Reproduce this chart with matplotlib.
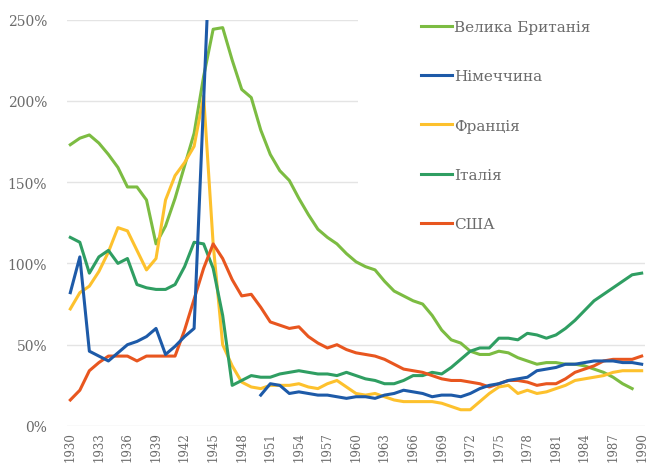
import matplotlib
matplotlib.use("Agg")
import matplotlib.pyplot as plt
import numpy as np
from matplotlib.patches import Rectangle

nan = np.nan

# public debt, % of GDP
years = list(range(1930, 1991))

uk = [173, 177, 179, 174, 167, 159, 147, 147, 139, 112,
      123, 140, 160, 180, 215, 244, 245, 225, 207, 202,
      182, 167, 157, 151, 140, 130, 121, 116, 112, 106,
      101, 98, 96, 89, 83, 80, 77, 75, 68, 59,
      53, 51, 46, 44, 44, 46, 45, 42, 40, 38,
      39, 39, 38, 38, 37, 35, 33, 30, 26, 23,
      nan]

germany = [82, 104, 46, 43, 40, 45, 50, 52, 55, 60,
           44, 49, 55, 60, 200, 340, nan, nan, nan, nan,
           19, 26, 25, 20, 21, 20, 19, 19, 18, 17,
           18, 18, 17, 19, 20, 22, 21, 20, 18, 19,
           19, 18, 20, 23, 25, 26, 28, 29, 30, 34,
           35, 36, 38, 38, 39, 40, 40, 40, 39, 39,
           38]

france = [72, 82, 86, 95, 107, 122, 120, 108, 96, 103,
          139, 154, 162, 172, 203, 112, 50, 37, 27, 24,
          23, 25, 25, 25, 26, 24, 23, 26, 28, 24,
          20, 19, 20, 18, 16, 15, 15, 15, 15, 14,
          12, 10, 10, 15, 20, 24, 25, 20, 22, 20,
          21, 23, 25, 28, 29, 30, 31, 33, 34, 34,
          34]

italy = [116, 113, 94, 104, 108, 100, 103, 87, 85, 84,
         84, 87, 98, 113, 112, 97, 68, 25, 28, 31,
         30, 30, 32, 33, 34, 33, 32, 32, 31, 33,
         31, 29, 28, 26, 26, 28, 31, 31, 33, 32,
         36, 41, 46, 48, 48, 54, 54, 53, 57, 56,
         54, 56, 60, 65, 71, 77, 81, 85, 89, 93,
         94]

usa = [16, 22, 34, 39, 43, 43, 43, 40, 43, 43,
       43, 43, 59, 78, 97, 112, 103, 90, 80, 81,
       73, 64, 62, 60, 61, 55, 51, 48, 50, 47,
       45, 44, 43, 41, 38, 35, 34, 33, 31, 29,
       28, 28, 27, 26, 24, 26, 28, 28, 27, 25,
       26, 26, 29, 33, 35, 37, 40, 41, 41, 41,
       43]

labels = ["Велика Британія", "Німеччина", "Франція", "Італія", "США"]
colors = ["#7cbc42", "#1d5aa8", "#fdc12d", "#2f9e62", "#e8561f"]

plt.rcParams["font.family"] = "DejaVu Serif"

fig = plt.figure(figsize=(6.48, 4.64), dpi=100)
ax = fig.add_axes([66.5 / 648, 1 - 427 / 464, (645 - 66.5) / 648, (427 - 20.5) / 464])

lines = {}
lines["uk"], = ax.plot(years, uk, color=colors[0], lw=2.2, zorder=2)
lines["fr"], = ax.plot(years, france, color=colors[2], lw=2.2, zorder=2.1)
lines["it"], = ax.plot(years, italy, color=colors[3], lw=2.2, zorder=2.2)
lines["us"], = ax.plot(years, usa, color=colors[4], lw=2.2, zorder=2.3)
lines["de"], = ax.plot(years, germany, color=colors[1], lw=2.2, zorder=2.4)

ax.set_xlim(1929.6, 1990.35)
ax.set_ylim(0, 250)
ax.set_yticks(range(0, 251, 50))
ax.set_yticklabels([f"{v}%" for v in range(0, 251, 50)])
ax.set_xticks(range(1930, 1991, 3))
ax.set_xticklabels([str(y) for y in range(1930, 1991, 3)], rotation=90, va="top")

ax.grid(axis="y", color="#e4e4e4", lw=1)
for s in ax.spines.values():
    s.set_visible(False)
ax.tick_params(axis="y", length=0, pad=14, labelsize=10, labelcolor="#6b6b6b")
ax.tick_params(axis="x", length=0, pad=4, labelsize=8.5, labelcolor="#6b6b6b")

# white box behind the legend hides the gridlines there
ax.add_patch(Rectangle((0.504, 0.47), 0.5, 0.55, transform=ax.transAxes,
                       facecolor="white", edgecolor="none", zorder=1.8, clip_on=False))

handles = [lines["uk"], lines["de"], lines["fr"], lines["it"], lines["us"]]
ax.legend(handles, labels, loc="upper left", bbox_to_anchor=(421 / 648, 1 - 21 / 464),
          bbox_transform=fig.transFigure, frameon=False, fontsize=11,
          handlelength=2.0, handletextpad=0.15, labelspacing=2.31,
          borderpad=0, borderaxespad=0, labelcolor="#6b6b6b")

fig.savefig("out.png", dpi=100)
